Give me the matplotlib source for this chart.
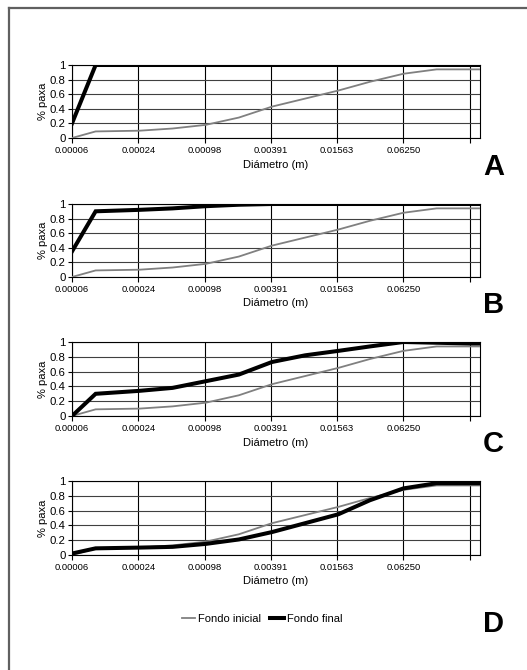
import matplotlib
matplotlib.use("Agg")
import matplotlib.pyplot as plt
from matplotlib.lines import Line2D

plt.rcParams["font.family"] = ["Liberation Sans", "DejaVu Sans"]

# sieve diameters (m) and cumulative fraction retained
diametro = [0.000061, 0.0001, 0.00025, 0.0005, 0.001, 0.002, 0.004,
            0.008, 0.016, 0.031, 0.0625, 0.125, 0.25, 0.31]

fondo_inicial = [0.0, 0.09, 0.10, 0.13, 0.18, 0.28, 0.43,
                 0.54, 0.65, 0.77, 0.88, 0.94, 0.94, 0.94]

fondo_final = {
    "A": [0.20, 1.0, 1.0, 1.0, 1.0, 1.0, 1.0,
          1.0, 1.0, 1.0, 1.0, 1.0, 1.0, 1.0],
    "B": [0.35, 0.90, 0.92, 0.94, 0.97, 0.99, 1.0,
          1.0, 1.0, 1.0, 1.0, 1.0, 1.0, 1.0],
    "C": [0.0, 0.30, 0.34, 0.38, 0.47, 0.56, 0.73,
          0.82, 0.88, 0.94, 1.0, 0.99, 0.98, 0.98],
    "D": [0.02, 0.09, 0.10, 0.11, 0.15, 0.21, 0.31,
          0.43, 0.55, 0.74, 0.90, 0.97, 0.97, 0.97],
}

xticks = [2.0 ** -14, 2.0 ** -12, 2.0 ** -10, 2.0 ** -8, 2.0 ** -6, 2.0 ** -4, 2.0 ** -2]
xticklabels = ["0.00006", "0.00024", "0.00098", "0.00391", "0.01563", "0.06250", ""]
yticks = [0, 0.2, 0.4, 0.6, 0.8, 1]
yticklabels = ["0", "0.2", "0.4", "0.6", "0.8", "1"]

W, H = 527, 670
fig = plt.figure(figsize=(W / 100, H / 100), dpi=100)

# (top, bottom) of each plot area in pixels, and baseline of the panel letter
panels = [("A", 65, 138, 175), ("B", 204, 277, 313),
          ("C", 342, 416, 452), ("D", 481, 555, 632)]
x0, x1 = 72, 480

GRAY = "#808080"

for letra, top, bot, base in panels:
    ax = fig.add_axes([x0 / W, 1 - bot / H, (x1 - x0) / W, (bot - top) / H])
    ax.plot(diametro, fondo_inicial, color=GRAY, lw=1.3, zorder=3)
    ax.plot(diametro, fondo_final[letra], color="black", lw=2.9,
            solid_joinstyle="miter", zorder=4)
    ax.set_xscale("log", base=2)
    ax.set_xlim(diametro[0], diametro[-1])
    ax.set_ylim(0, 1)
    ax.set_xticks(xticks)
    ax.set_xticklabels(xticklabels, fontsize=6.8)
    ax.xaxis.set_minor_locator(matplotlib.ticker.NullLocator())
    ax.set_yticks(yticks)
    ax.set_yticklabels(yticklabels, fontsize=8.2)
    ax.tick_params(axis="x", length=3.5, width=0.8, pad=2.5)
    ax.tick_params(axis="y", length=3, width=0.8, pad=1.5)
    ax.grid(axis="x", color="black", lw=0.8)
    ax.grid(axis="y", color="#404040", lw=0.8)
    ax.set_axisbelow(True)
    for sp in ax.spines.values():
        sp.set_color("black")
        sp.set_linewidth(0.8)
    ax.set_xlabel("Diámetro (m)", fontsize=8, labelpad=3)
    ax.set_ylabel("% paxa", fontsize=8, labelpad=1)
    fig.text(483 / W, 1 - base / H, letra, fontsize=21, fontweight="bold",
             va="baseline", ha="left")

handles = [Line2D([], [], color=GRAY, lw=1.3),
           Line2D([], [], color="black", lw=2.9)]
fig.legend(handles, ["Fondo inicial", "Fondo final"], ncol=2, frameon=False,
           fontsize=8, handlelength=1.2, handletextpad=0.3, columnspacing=0.8,
           loc="center", bbox_to_anchor=(262 / W, 1 - 619 / H))

# outer frame, open on the right and bottom
fig.add_artist(Line2D([9 / W, 9 / W], [0, 1 - 8 / H], color="#606060", lw=1.6))
fig.add_artist(Line2D([9 / W, 1], [1 - 8 / H, 1 - 8 / H], color="#606060", lw=1.6))

fig.savefig("out.png", dpi=100)
